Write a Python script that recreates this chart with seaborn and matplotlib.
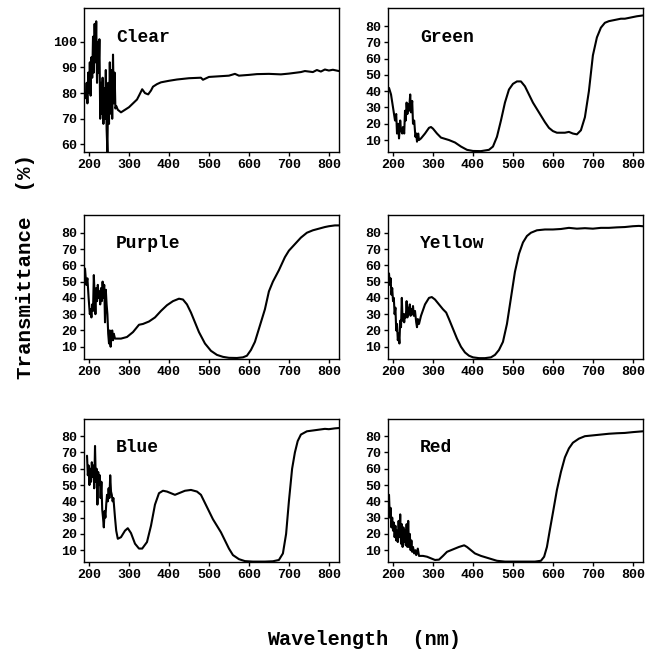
import matplotlib
matplotlib.use("Agg")
import matplotlib.pyplot as plt
import seaborn as sns

# Transmittance spectra, wavelength (nm) vs T (%)
clear_nm = [190, 192, 194, 196, 198, 200, 202, 204, 206, 208, 210, 212, 214, 216, 218, 220,
            222, 224, 226, 228, 230, 232, 234, 236, 238, 240, 242, 244, 246, 248, 250, 252,
            254, 256, 258, 260, 262, 264, 266, 268, 272, 280, 290, 300, 310, 320, 325, 333,
            340, 348, 355, 360, 370, 380, 400, 420, 450, 480, 485, 500, 530, 550, 565, 575,
            600, 620, 650, 680, 700, 730, 740, 760, 770, 780, 790, 800, 810, 825]
clear_t = [80, 78, 84, 76, 88, 80, 92, 79, 94, 86, 102, 88, 107, 92, 108, 84,
           100, 88, 101, 70, 84, 72, 86, 68, 82, 70, 89, 66, 57, 84, 68, 92,
           72, 89, 70, 95, 76, 88, 74, 75, 73.5, 72.5, 73.5, 74.5, 76, 77.5, 79, 81.5,
           80, 79.5, 81, 82.5, 83.5, 84.2, 84.8, 85.3, 85.8, 86, 85.2, 86.3, 86.6, 86.8, 87.5, 86.8,
           87.1, 87.4, 87.5, 87.3, 87.6, 88.2, 88.6, 88.2, 89, 88.4, 89.2, 88.8, 89.1, 88.6]

green_nm = [190, 195, 200, 205, 208, 210, 213, 215, 218, 220, 223, 225, 228, 230, 232, 234,
            236, 238, 240, 243, 245, 248, 250, 253, 256, 258, 260, 263, 265, 270, 280, 290,
            295, 300, 310, 320, 340, 355, 370, 385, 400, 420, 440, 450, 460, 470, 480, 490,
            500, 510, 520, 530, 540, 550, 560, 570, 580, 590, 600, 610, 620, 630, 640, 650,
            660, 670, 680, 690, 700, 710, 720, 730, 740, 750, 760, 770, 780, 790, 800, 810, 825]
green_t = [42, 38, 30, 22, 26, 14, 20, 11, 22, 16, 14, 18, 14, 28, 22, 33,
           26, 32, 28, 38, 27, 34, 20, 22, 12, 14, 9, 14, 10, 11, 14, 17.5,
           18, 17, 14, 11.5, 10, 8.5, 6, 4, 3.3, 3.2, 4, 6, 12, 22, 33, 41,
           44.5, 46, 46, 43, 38, 33, 29, 25, 21, 17.5, 15.5, 14.5, 14.5, 14.5, 15, 14,
           13.5, 16, 24, 40, 62, 73, 79, 82, 83, 83.5, 84, 84.5, 84.5, 85, 85.5, 86, 86.5]

purple_nm = [190, 193, 196, 199, 202, 204, 206, 208, 210, 212, 214, 216, 218, 220, 222, 224,
             226, 228, 230, 232, 234, 236, 238, 240, 242, 244, 246, 248, 250, 252, 254, 256,
             258, 260, 262, 265, 280, 295, 310, 325, 335, 350, 365, 380, 395, 410, 425, 435,
             445, 455, 465, 475, 490, 505, 520, 535, 550, 570, 585, 595, 605, 615, 625, 640,
             650, 660, 675, 690, 700, 715, 730, 745, 760, 775, 790, 800, 815, 825]
purple_t = [58, 48, 52, 40, 30, 33, 28, 36, 32, 54, 42, 30, 46, 38, 48, 40,
            44, 36, 46, 38, 50, 40, 48, 25, 45, 36, 30, 18, 12, 20, 10, 16,
            20, 14, 18, 15, 15, 16, 19, 23.5, 24, 25.5, 28, 32, 35.5, 38, 39.5, 39,
            36, 31, 25, 19, 12, 7.5, 5, 3.8, 3.2, 3.1, 3.5, 4.5, 8, 13, 21, 33,
            44, 50, 57, 65, 69, 73, 77, 80, 81.5, 82.5, 83.5, 84, 84.5, 84.5]

yellow_nm = [190, 192, 194, 196, 198, 200, 202, 204, 206, 208, 210, 212, 214, 216, 218, 220,
             222, 224, 226, 228, 230, 232, 234, 236, 238, 240, 242, 244, 246, 248, 250, 252,
             255, 258, 260, 262, 265, 270, 280, 290, 297, 305, 315, 325, 333, 340, 350, 360,
             370, 380, 390, 400, 415, 430, 445, 455, 465, 475, 485, 495, 505, 515, 525, 535,
             545, 560, 580, 600, 620, 640, 660, 680, 700, 720, 740, 760, 780, 800, 815, 825]
yellow_t = [55, 48, 52, 42, 46, 38, 40, 30, 34, 20, 24, 14, 18, 12, 26, 22,
            40, 26, 30, 25, 30, 28, 38, 28, 34, 30, 36, 29, 33, 30, 35, 29,
            32, 25, 22, 27, 24, 29, 36, 40, 40.5, 39, 36, 33, 31, 27, 21, 15,
            10, 6.5, 4.5, 3.5, 3, 3, 3.5, 5, 8, 13, 24, 40, 56, 67, 74, 78,
            80, 81.5, 82, 82, 82.3, 83, 82.5, 82.8, 82.5, 83, 83, 83.3, 83.5, 84, 84.2, 84]

blue_nm = [195, 197, 199, 201, 203, 205, 207, 209, 211, 213, 215, 217, 219, 221, 223, 225,
           227, 229, 231, 233, 235, 237, 239, 241, 243, 245, 247, 249, 251, 253, 255, 257,
           259, 261, 263, 265, 268, 272, 280, 290, 297, 305, 315, 325, 333, 345, 355, 365,
           375, 385, 395, 405, 415, 425, 440, 455, 470, 480, 490, 500, 510, 520, 530, 540,
           550, 560, 575, 590, 610, 640, 660, 675, 685, 693, 700, 708, 715, 722, 730, 745,
           760, 775, 790, 800, 815, 825]
blue_t = [68, 56, 62, 50, 60, 52, 64, 55, 62, 48, 74, 52, 60, 38, 58, 50,
          56, 42, 52, 35, 30, 24, 34, 30, 38, 44, 40, 48, 42, 56, 46, 44,
          40, 42, 36, 30, 22, 17, 18, 22, 23.5, 20.5, 14, 11, 11, 15, 25, 38,
          45, 46.5, 46, 45, 44, 45, 46.5, 47, 46, 44, 39, 34, 29, 25, 21, 16,
          11, 7, 4.5, 3.3, 3, 3, 3.2, 4, 8, 20, 40, 60, 70, 77, 81, 83,
          83.5, 84, 84.5, 84.3, 84.8, 85]

red_nm = [190, 192, 194, 196, 198, 200, 202, 204, 206, 208, 210, 212, 214, 216, 218, 220,
          222, 224, 226, 228, 230, 232, 234, 236, 238, 240, 242, 244, 246, 248, 250, 253,
          256, 258, 262, 265, 275, 285, 295, 305, 315, 325, 335, 350, 365, 378, 385, 395,
          405, 420, 440, 460, 480, 500, 530, 555, 570, 578, 585, 592, 600, 610, 620, 630,
          640, 650, 665, 680, 700, 720, 740, 760, 780, 800, 815, 825]
red_t = [44, 30, 36, 24, 30, 22, 27, 18, 25, 16, 22, 15, 28, 18, 32, 14,
         26, 12, 24, 15, 22, 13, 26, 12, 28, 12, 20, 10, 16, 9, 12, 8,
         10, 7, 11, 6.5, 6.5, 6, 5, 4, 4.2, 6.5, 9, 10.5, 12, 13, 12, 10,
         8, 6.5, 5, 3.5, 3, 3, 3, 3, 3.5, 6, 12, 22, 33, 47, 58, 67,
         72.5, 76, 78.5, 80, 80.5, 81, 81.5, 81.8, 82, 82.5, 82.8, 83]

names = ["Clear", "Green", "Purple", "Yellow", "Blue", "Red"]
wavelengths = [clear_nm, green_nm, purple_nm, yellow_nm, blue_nm, red_nm]
transmittance = [clear_t, green_t, purple_t, yellow_t, blue_t, red_t]
x_ticks = [200, 300, 400, 500, 600, 700, 800]
clear_yticks = [60, 70, 80, 90, 100]
tinted_yticks = [10, 20, 30, 40, 50, 60, 70, 80]

sns.set_style("ticks")
plt.rcParams['font.family'] = ['Liberation Mono', 'DejaVu Sans Mono']
plt.rcParams['font.weight'] = 'bold'
plt.rcParams['text.color'] = 'black'
plt.rcParams['xtick.color'] = 'black'
plt.rcParams['ytick.color'] = 'black'

fig = plt.figure(figsize=(6.58, 6.50), dpi=100)

# panel boxes in figure fraction: left, bottom
lefts = [0.128, 0.590]
bottoms = [0.766, 0.448, 0.135]
w, h = 0.387, 0.221

for i, name in enumerate(names):
    row, col = divmod(i, 2)
    ax = fig.add_axes([lefts[col], bottoms[row], w, h])
    sns.lineplot(x=wavelengths[i], y=transmittance[i], ax=ax, color='black',
                 linewidth=1.5, sort=False, estimator=None)
    ax.set_xlim(188, 825)
    if name == "Clear":
        ax.set_ylim(57, 113)
        ax.set_yticks(clear_yticks)
    else:
        ax.set_ylim(2.6, 90.8)
        ax.set_yticks(tinted_yticks)
    ax.set_xticks(x_ticks)
    ax.tick_params(direction='out', length=3, width=1, labelsize=9.5, pad=2,
                   color='black', labelcolor='black')
    for lab in ax.get_xticklabels() + ax.get_yticklabels():
        lab.set_fontweight('bold')
    for sp in ax.spines.values():
        sp.set_visible(True)
        sp.set_color('black')
        sp.set_linewidth(1.0)
    ax.text(0.125, 0.80, name, transform=ax.transAxes, fontsize=13,
            fontweight='bold', ha='left', va='center', color='black')

fig.text(0.553, 0.008, "Wavelength  (nm)", fontsize=14.5, fontweight='bold',
         ha='center', va='baseline', color='black')
fig.text(0.038, 0.59, "Transmittance  (%)", fontsize=15, fontweight='bold',
         ha='center', va='center', rotation=90, color='black')

fig.savefig("out.png", dpi=100)
